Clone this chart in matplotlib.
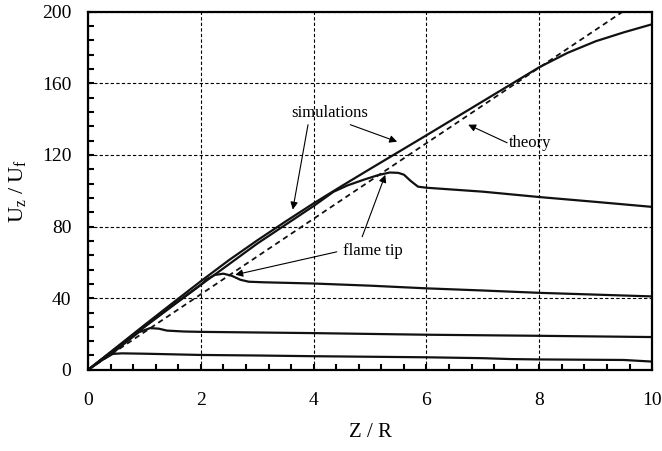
import numpy as np
import matplotlib
matplotlib.use('Agg')
import matplotlib.pyplot as plt
from matplotlib.ticker import MultipleLocator

plt.rcParams['font.family'] = ['Liberation Serif', 'DejaVu Serif']
plt.rcParams['mathtext.fontset'] = 'custom'
plt.rcParams['mathtext.rm'] = 'Liberation Serif'
plt.rcParams['mathtext.it'] = 'Liberation Serif:italic'

# simulation curves
x_a = [0, 0.5, 1, 1.5, 2, 2.5, 3, 3.5, 4, 4.5, 5, 5.5, 6, 6.5, 7, 7.5, 8, 8.5, 9, 9.5, 10]
y_a = [0, 12.5, 25, 37.3, 49.5, 61.3, 72.3, 82.8, 93, 102.7, 112.2, 121.6, 131, 140.5, 150,
       159.5, 169, 177, 183.5, 188.5, 193]

x_b = [0, 1, 2, 3, 4, 4.35, 4.6, 4.9, 5.15, 5.35, 5.5, 5.6, 5.72, 5.85, 6.0, 6.5, 7, 8, 9, 10]
y_b = [0, 24, 47.5, 70.5, 91.5, 99.4, 103, 106.3, 108.8, 110.2, 110, 109, 105.5, 102.3, 101.7,
       100.6, 99.5, 96.5, 93.8, 91]

x_c = [0, 0.5, 1, 1.5, 2, 2.1, 2.25, 2.4, 2.55, 2.7, 2.85, 3.1, 4, 5, 6, 7, 8, 9, 10]
y_c = [0, 12, 24, 36, 47.5, 50.5, 53, 53.7, 52.5, 50.3, 49.2, 48.9, 48.2, 47, 45.5, 44.3, 43, 42, 41]

x_d = [0, 0.5, 0.9, 1.1, 1.25, 1.4, 1.7, 2, 4, 6, 8, 10]
y_d = [0, 11, 21, 23.3, 23, 21.9, 21.4, 21.2, 20.5, 19.6, 19, 18.3]

x_e = [0, 0.25, 0.44, 0.6, 1, 2, 3, 4, 5, 6, 7, 7.5, 8, 9, 9.5, 10]
y_e = [0, 5.5, 8.9, 9.2, 9, 8.3, 8, 7.6, 7.3, 7, 6.5, 6, 5.8, 5.6, 5.5, 4.6]

# theory line
x_th = [0, 10]
y_th = [0, 211]

fig = plt.figure(figsize=(6.62, 4.51), dpi=100)
ax = fig.add_axes([0.133, 0.18, 0.852, 0.794])

for xs, ys in [(x_a, y_a), (x_b, y_b), (x_c, y_c), (x_d, y_d), (x_e, y_e)]:
    ax.plot(xs, ys, color='#111111', lw=1.6, solid_joinstyle='round')
ax.plot(x_th, y_th, color='#111111', lw=1.3, ls=(0, (3, 2.2)))

ax.set_xlim(0, 10)
ax.set_ylim(0, 200)
ax.xaxis.set_major_locator(MultipleLocator(2))
ax.xaxis.set_minor_locator(MultipleLocator(0.4))
ax.yaxis.set_major_locator(MultipleLocator(40))
ax.yaxis.set_minor_locator(MultipleLocator(8))
ax.tick_params(which='both', direction='in', width=1.5, length=4, top=False, right=False)
ax.tick_params(axis='x', which='major', labelsize=14, pad=16)
ax.tick_params(axis='y', which='major', labelsize=14, pad=12)
for s in ax.spines.values():
    s.set_linewidth(1.6)
ax.grid(True, which='major', color='black', ls=(0, (3, 2)), lw=0.8)

ax.set_xlabel('Z / R', fontsize=15, labelpad=10)
ax.set_ylabel(r'$\mathrm{U_z\ /\ U_f}$', fontsize=16, labelpad=10)

arrow = dict(arrowstyle='-|>', color='black', lw=0.8, mutation_scale=11, shrinkA=0, shrinkB=0)
ax.text(4.29, 143.6, 'simulations', fontsize=12, ha='center', va='center')
ax.annotate('', xy=(3.63, 89.5), xytext=(3.90, 136.9), arrowprops=arrow)
ax.annotate('', xy=(5.48, 127.4), xytext=(4.65, 136.9), arrowprops=arrow)
ax.text(7.84, 126.8, 'theory', fontsize=12, ha='center', va='center')
ax.annotate('', xy=(6.74, 136.9), xytext=(7.43, 126.8), arrowprops=arrow)
ax.text(5.05, 66.5, 'flame tip', fontsize=12, ha='center', va='center')
ax.annotate('', xy=(2.61, 53.1), xytext=(4.41, 65.9), arrowprops=arrow)
ax.annotate('', xy=(5.27, 108.9), xytext=(4.86, 74.3), arrowprops=arrow)

fig.savefig('out.png', dpi=100)
